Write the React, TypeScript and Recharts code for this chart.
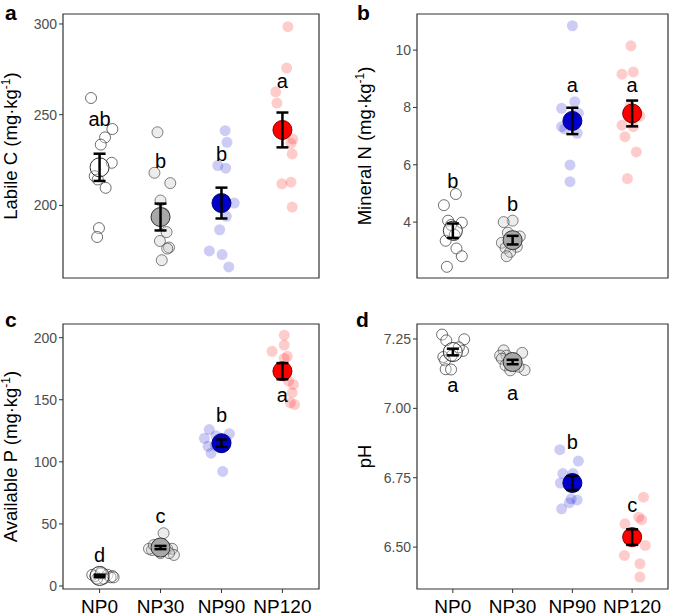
import { ScatterChart, Scatter, XAxis, YAxis, ReferenceArea } from 'recharts';

const groups = ['NP0', 'NP30', 'NP90', 'NP120'];

// a: labile C
const labileC = [
  [259.2, 242.1, 237.5, 233.5, 223.5, 216.1, 214.3, 209.7, 187.5, 182.6],
  [240.3, 218, 212.3, 202.7, 195.5, 185.3, 180.4, 176.8, 176.2, 169.8],
  [241.2, 234.8, 222, 220.5, 201.3, 194, 186.6, 174.9, 172.9, 166.1],
  [298.5, 275.7, 262.6, 256.4, 236.6, 234.2, 228.4, 211.9, 212.8, 199.1],
];
const labileCJit = [
  [-0.14, 0.21, 0.09, 0.02, 0.2, -0.08, -0.03, 0.1, -0.01, -0.04],
  [-0.05, -0.1, 0.16, 0, 0.05, 0.1, -0.01, 0.14, 0.11, 0.02],
  [0.06, 0.09, -0.06, 0.07, 0.21, 0.08, -0.03, -0.2, 0.01, 0.12],
  [0.09, 0.07, -0.11, -0.09, 0.17, 0.14, 0.16, -0.01, 0.14, 0.16],
];
const labileCMean = [221, 193.6, 201.3, 241.6];
const labileCSe = [7.5, 7.4, 8.5, 9.6];
const labileCLetters = ['ab', 'b', 'b', 'a'];
const labileCLetterY = [244, 220.5, 224.3, 264.7];

// b: mineral N
const mineralN = [
  [4.98, 4.59, 4.05, 3.98, 3.9, 3.55, 3.35, 3.08, 2.81, 2.44],
  [4.05, 4.0, 3.63, 3.5, 3.4, 3.28, 3.14, 3.1, 2.96, 2.81],
  [10.85, 8.2, 7.97, 7.8, 7.6, 7.33, 7.25, 7.1, 5.99, 5.41],
  [10.15, 9.16, 9.24, 8.02, 7.7, 7.38, 7.33, 6.98, 6.45, 5.52],
];
const mineralNJit = [
  [0.05, -0.15, -0.08, 0.15, -0.03, 0.03, -0.12, 0.06, 0.15, -0.1],
  [0, -0.15, -0.08, 0.12, 0.05, -0.18, 0.07, -0.12, -0.04, -0.1],
  [0, 0.04, -0.18, 0.1, 0.04, -0.18, -0.13, 0.08, -0.04, -0.04],
  [-0.02, -0.17, 0.02, -0.04, 0.13, -0.17, 0.02, -0.12, 0.07, -0.08],
];
const mineralNMean = [3.7, 3.37, 7.53, 7.79];
const mineralNSe = [0.25, 0.15, 0.46, 0.45];
const mineralNLetters = ['b', 'b', 'a', 'a'];
const mineralNLetterY = [5.18, 4.38, 8.55, 8.55];

// c: available P
const availP = [
  [8, 10, 9, 8, 7, 6, 9, 6, 7, 11],
  [42.5, 29, 31, 30, 30, 25, 30, 26.5, 26.5, 33],
  [126, 122.7, 112.5, 107, 92.3, 119, 117, 121, 116, 113],
  [202, 194, 189, 183.3, 162.3, 155.6, 147.5, 146.1, 185, 165],
];
const availPJit = [
  [-0.07, 0.02, 0.13, 0.21, 0.18, 0.07, -0.12, -0.04, 0.23, 0.02],
  [0.05, -0.14, -0.05, 0.11, 0.19, 0.22, -0.19, 0, 0.14, -0.11],
  [-0.2, 0.13, -0.22, -0.17, 0.02, -0.28, 0.08, -0.09, 0.05, -0.1],
  [0.03, 0.03, -0.17, 0.03, 0.18, 0.16, 0.13, 0.2, 0.08, 0.1],
];
const availPMean = [8.1, 31, 115, 173];
const availPSe = [1.0, 1.3, 3.0, 6.5];
const availPLetters = ['d', 'c', 'b', 'a'];
const availPLetterY = [19.6, 50.6, 131.9, 148];

// d: pH
const pH = [
  [7.266, 7.249, 7.245, 7.207, 7.185, 7.19, 7.173, 7.141, 7.14, 7.22],
  [7.209, 7.19, 7.19, 7.2, 7.179, 7.17, 7.155, 7.137, 7.138, 7.15],
  [6.851, 6.81, 6.765, 6.765, 6.731, 6.674, 6.67, 6.66, 6.638],
  [6.68, 6.599, 6.608, 6.584, 6.506, 6.47, 6.44, 6.392],
];
const pHJit = [
  [-0.18, 0.19, -0.11, 0.17, -0.16, -0.02, -0.13, -0.12, -0.03, 0.1],
  [-0.15, -0.1, -0.21, 0.16, -0.18, 0.02, -0.12, -0.04, 0.2, 0.1],
  [-0.21, 0.1, -0.16, 0.01, -0.2, -0.02, 0.08, -0.05, -0.18],
  [0.19, 0.16, 0.11, -0.12, 0.22, -0.13, 0.13, 0.13],
];
const pHMean = [7.203, 7.167, 6.731, 6.536];
const pHSe = [0.012, 0.008, 0.025, 0.028];
const pHLetters = ['a', 'a', 'b', 'c'];
const pHLetterY = [7.059, 7.029, 6.855, 6.626];

const FONT = '"Liberation Sans", Arial, Helvetica, sans-serif';

const pointStyle = [
  { fill: 'rgba(255,255,255,0.3)', stroke: 'rgba(50,50,50,0.7)' },
  { fill: 'rgba(200,200,200,0.35)', stroke: 'rgba(50,50,50,0.6)' },
  { fill: 'rgba(0,0,205,0.2)', stroke: 'none' },
  { fill: 'rgba(255,0,0,0.2)', stroke: 'none' },
];
const meanStyle = [
  { fill: 'rgba(255,255,255,0.25)', stroke: '#333333' },
  { fill: '#a8a8a8', stroke: '#333333' },
  { fill: '#0000cd', stroke: '#00007a' },
  { fill: '#ff0000', stroke: '#8b0000' },
];

type PanelProps = {
  left: number; top: number; width: number; height: number;
  axisW: number; mTop: number; mRight: number; xh: number; showX: boolean;
  domain: [number, number]; ticks: number[]; fmt: (v: number) => string;
  title: string; unit: boolean; titleX: number;
  vals: number[][]; jit: number[][]; mean: number[]; se: number[];
  letters: string[]; letterY: number[];
};

function Panel(p: PanelProps) {
  const pts = p.vals.flatMap((arr, g) => arr.map((v, i) => ({ x: g + 1 + p.jit[g][i], y: v, g })));
  const means = p.mean.map((m, g) => ({ x: g + 1, y: m, g }));
  const bars = p.mean.map((m, g) => [
    { x: g + 1, y: m - p.se[g] },
    { x: g + 1, y: m + p.se[g] },
  ]);
  const labs = p.letters.map((t, g) => ({ x: g + 1, y: p.letterY[g], t }));
  const cy = p.mTop + (p.height - p.mTop - p.xh) / 2;

  return (
    <div style={{ position: 'absolute', left: p.left, top: p.top }}>
      <ScatterChart width={p.width} height={p.height} margin={{ top: p.mTop, right: p.mRight, left: 0, bottom: 0 }} style={{ fontFamily: FONT }}>
        <XAxis
          type="number" dataKey="x" domain={[0.4, 4.6]} ticks={[1, 2, 3, 4]} interval={0}
          height={p.xh} tickSize={4} tickMargin={7} axisLine={false}
          tickLine={{ stroke: '#333' }}
          tick={p.showX ? { fill: '#000', fontSize: 19, fontFamily: FONT } : false}
          tickFormatter={(v: number) => groups[Math.round(v) - 1]}
          allowDataOverflow
        />
        <YAxis
          type="number" dataKey="y" domain={p.domain} ticks={p.ticks} interval={0} allowDataOverflow
          width={p.axisW} tickSize={4} tickMargin={2} axisLine={false}
          tickLine={{ stroke: '#333' }}
          tick={{ fill: '#4d4d4d', fontSize: 14, fontFamily: FONT }}
          tickFormatter={p.fmt}
          label={{
            content: () => (
              <text x={p.titleX} y={cy} transform={`rotate(-90 ${p.titleX} ${cy})`} textAnchor="middle" fontSize={18.5} fill="#000" fontFamily={FONT}>
                {p.title}
                {p.unit && <tspan> (mg·kg</tspan>}
                {p.unit && <tspan dy={-7} fontSize={12}>-1</tspan>}
                {p.unit && <tspan dy={7}>)</tspan>}
              </text>
            ),
          }}
        />
        <ReferenceArea x1={0.4} x2={4.6} y1={p.domain[0]} y2={p.domain[1]} fill="none" stroke="#333" strokeWidth={1.2} ifOverflow="visible" />
        <Scatter
          data={pts} isAnimationActive={false}
          shape={(s: any) => <circle cx={s.cx} cy={s.cy} r={5.5} fill={pointStyle[s.payload.g].fill} stroke={pointStyle[s.payload.g].stroke} strokeWidth={1} />}
        />
        <Scatter
          data={means} isAnimationActive={false}
          shape={(s: any) => <circle cx={s.cx} cy={s.cy} r={9.5} fill={meanStyle[s.payload.g].fill} stroke={meanStyle[s.payload.g].stroke} strokeWidth={1} />}
        />
        {bars.map((b, g) => (
          <Scatter
            key={`bar-${g}`} data={b} isAnimationActive={false}
            line={{ stroke: '#000', strokeWidth: 2.5 }}
            shape={(s: any) => <line x1={s.cx - 6} x2={s.cx + 6} y1={s.cy} y2={s.cy} stroke="#000" strokeWidth={2.5} />}
          />
        ))}
        <Scatter
          data={labs} isAnimationActive={false}
          shape={(s: any) => <text x={s.cx} y={s.cy} textAnchor="middle" fontSize={20} fill="#000" fontFamily={FONT}>{s.payload.t}</text>}
        />
      </ScatterChart>
    </div>
  );
}

export default function App() {
  const f0 = (v: number) => String(v);
  const f2 = (v: number) => v.toFixed(2);
  return (
    <div style={{ position: 'absolute', left: 0, top: 0, width: 675, height: 616, background: '#fff', fontFamily: FONT }}>
      <Panel left={0} top={0} width={330} height={300} axisW={63} mTop={14} mRight={11} xh={22} showX={false}
        domain={[160, 305.5]} ticks={[200, 250, 300]} fmt={f0} title="Labile C" unit titleX={17}
        vals={labileC} jit={labileCJit} mean={labileCMean} se={labileCSe} letters={labileCLetters} letterY={labileCLetterY} />
      <Panel left={335} top={0} width={340} height={300} axisW={82} mTop={14} mRight={7} xh={22} showX={false}
        domain={[2.05, 11.26]} ticks={[4, 6, 8, 10]} fmt={f0} title="Mineral N" unit titleX={36}
        vals={mineralN} jit={mineralNJit} mean={mineralNMean} se={mineralNSe} letters={mineralNLetters} letterY={mineralNLetterY} />
      <Panel left={0} top={290} width={330} height={326} axisW={63} mTop={34} mRight={11} xh={27} showX
        domain={[-2.4, 211]} ticks={[0, 50, 100, 150, 200]} fmt={f0} title="Available P" unit titleX={17}
        vals={availP} jit={availPJit} mean={availPMean} se={availPSe} letters={availPLetters} letterY={availPLetterY} />
      <Panel left={335} top={290} width={340} height={326} axisW={82} mTop={34} mRight={7} xh={27} showX
        domain={[6.349, 7.304]} ticks={[6.5, 6.75, 7.0, 7.25]} fmt={f2} title="pH" unit={false} titleX={36}
        vals={pH} jit={pHJit} mean={pHMean} se={pHSe} letters={pHLetters} letterY={pHLetterY} />
      <svg width={675} height={616} style={{ position: 'absolute', left: 0, top: 0, pointerEvents: 'none' }}>
        <text x={5} y={20} fontSize={21} fontWeight="bold" fontFamily={FONT}>a</text>
        <text x={357} y={20} fontSize={21} fontWeight="bold" fontFamily={FONT}>b</text>
        <text x={5} y={327} fontSize={21} fontWeight="bold" fontFamily={FONT}>c</text>
        <text x={356} y={327} fontSize={21} fontWeight="bold" fontFamily={FONT}>d</text>
      </svg>
    </div>
  );
}
